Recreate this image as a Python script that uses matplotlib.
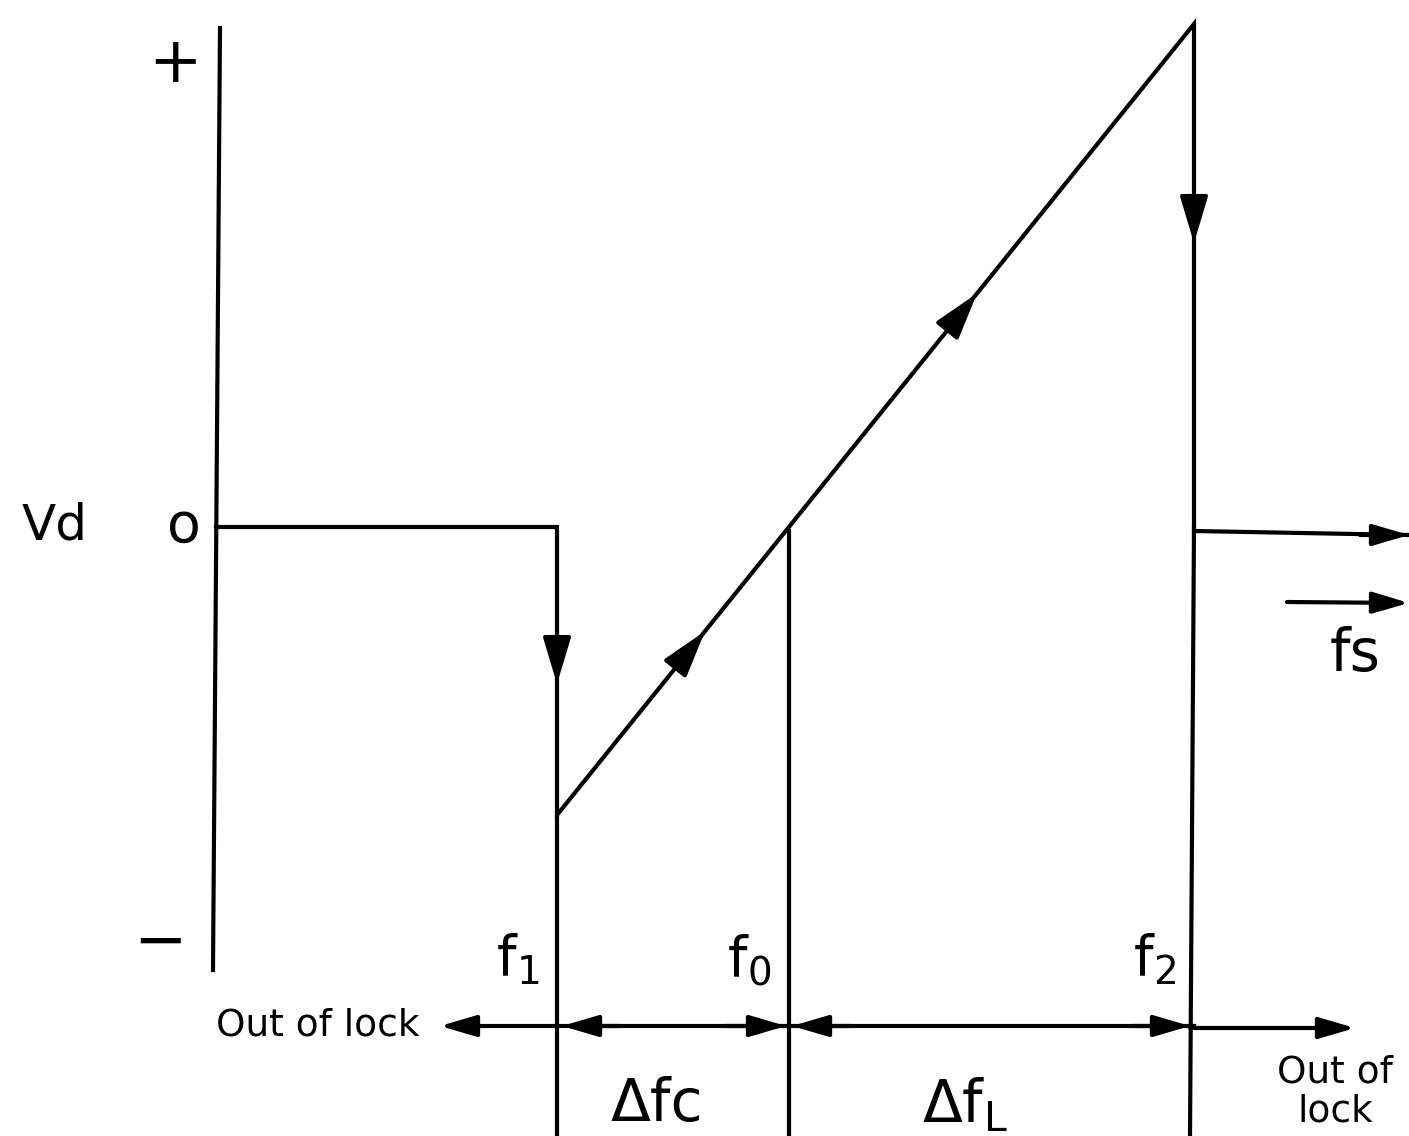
import matplotlib.pyplot as plt
import numpy as np

# diagram laid out in picture units (x to the right, y downwards)
f1, f0, f2 = 557, 789, 1194
v_zero, v_min, v_max = 527, 815, 24
x_axis = 216
y_top, y_bot = 28, 970
y_band = 1026

# detector output Vd against signal frequency fs
curve_x = [x_axis, f1, f1, f2, f2, 1409]
curve_y = [v_zero, v_zero, v_min, v_max, v_zero + 4, v_zero + 8]

freq_names = ["f$_1$", "f$_0$", "f$_2$"]
freq_x = [f1, f0, f2]
level_names = ["+", "o", "−"]
level_y = [66, 527, 946]

LW = 3.0
BIG = "-|>,head_length=1.1,head_width=0.33"
SMALL = "-|>,head_length=0.85,head_width=0.25"


def head(ax, tip, back, style=BIG):
    ax.annotate("", xy=tip, xytext=back,
                arrowprops=dict(arrowstyle=style, mutation_scale=26, lw=LW,
                                color="black", shrinkA=0, shrinkB=0))


def main():
    fig = plt.figure(figsize=(14.09, 11.36), dpi=100)
    ax = fig.add_axes([0, 0, 1, 1])
    ax.set_xlim(0, 1409)
    ax.set_ylim(1136, 0)
    ax.axis("off")

    # vertical Vd axis
    ax.plot([220, 213], [y_top, y_bot], color="black", lw=LW)

    # characteristic
    ax.plot(curve_x, curve_y, color="black", lw=LW, solid_joinstyle="miter")
    head(ax, (1409, curve_y[-1]), (1360, curve_y[-1]), SMALL)

    # direction heads on the path
    head(ax, (f1, 684), (f1, 636))
    head(ax, (f2, 243), (f2, 195))
    slope = (v_max - v_min) / (f2 - f1)
    for tx in [705, 977]:
        ty = v_min + slope * (tx - f1)
        head(ax, (tx, ty), (tx - 30, ty - 30 * slope))

    # frequency markers down to the bottom
    ax.plot([f1, f1], [v_min, 1136], color="black", lw=LW)
    ax.plot([f0, f0], [v_zero + 4, 1136], color="black", lw=LW)
    ax.plot([f2, 1190], [v_zero, 1136], color="black", lw=LW)

    # fs direction
    head(ax, (1409, 603), (1287, 602), SMALL)
    ax.text(1355, 655, "fs", fontsize=42, ha="center", va="center")

    # level labels
    ax.text(55, 525, "Vd", fontsize=36, ha="center", va="center")
    ax.text(175, 64, level_names[0], fontsize=46, ha="center", va="center")
    ax.text(184, 527, level_names[1], fontsize=40, ha="center", va="center")
    ax.text(160, 943, level_names[2], fontsize=46, ha="center", va="center")

    # frequency labels
    for name, fx in zip(freq_names, freq_x):
        ax.text(fx - 18, 960, name, fontsize=40, ha="right", va="center")

    # lock / capture ranges along the bottom band
    head(ax, (440, y_band), (f1, y_band), SMALL)
    head(ax, (562, y_band), (620, y_band), SMALL)
    head(ax, (786, y_band), (726, y_band), SMALL)
    ax.plot([f1, f0], [y_band, y_band], color="black", lw=LW)
    head(ax, (792, y_band), (850, y_band), SMALL)
    head(ax, (1190, y_band), (1130, y_band), SMALL)
    ax.plot([f0, f2], [y_band, y_band], color="black", lw=LW)
    head(ax, (1355, y_band + 2), (1190, y_band + 2), SMALL)

    ax.text(318, 1025, "Out of lock", fontsize=27, ha="center", va="center")
    ax.text(1335, 1092, "Out of\nlock", fontsize=27, ha="center", va="center",
            linespacing=1.1)
    ax.text(657, 1105, "Δfc", fontsize=42, ha="center", va="center")
    ax.text(965, 1105, "Δf$_{\\rm L}$", fontsize=42, ha="center", va="center")

    fig.savefig("out.png", dpi=100)


if __name__ == '__main__':
    main()
